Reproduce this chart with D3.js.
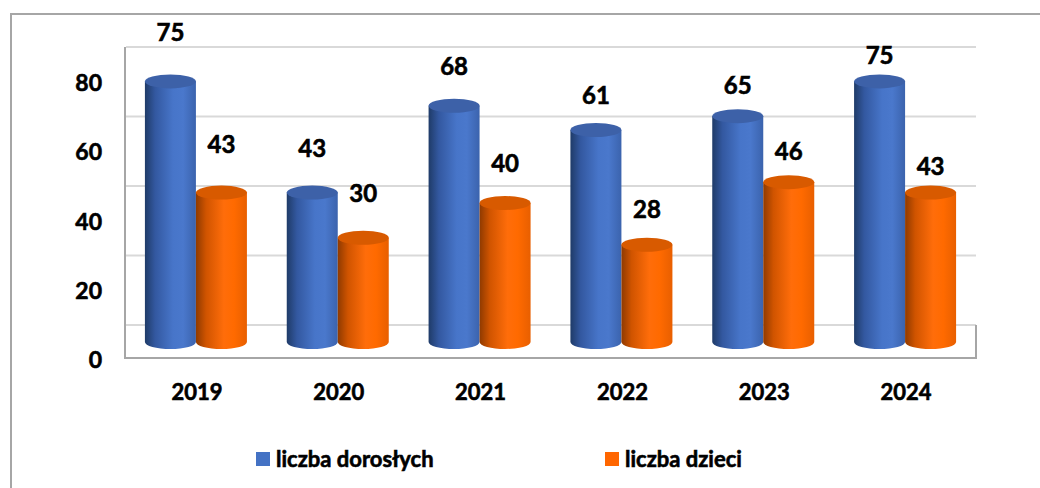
<!DOCTYPE html>
<html>
<head>
<meta charset="utf-8">
<script src="https://cdn.jsdelivr.net/npm/d3@7"></script>
<style>
  body { margin: 0; background: #fff; }
  text { font-family: Lato, "Open Sans", sans-serif; font-weight: bold; fill: #000;
         stroke: #000; stroke-width: 0.6px; }
</style>
</head>
<body>
<script>
var years = ['2019', '2020', '2021', '2022', '2023', '2024'];
var adults = [75, 43, 68, 61, 65, 75];
var children = [43, 30, 40, 28, 46, 43];
var seriesNames = ['liczba dorosłych', 'liczba dzieci'];
var yTicks = [0, 20, 40, 60, 80];

var w = 1040, h = 488;
var barW = 51, ry = 7;

var svg = d3.select('body').append('svg')
  .attr('width', w)
  .attr('height', h);

// outer frame (only top and left visible)
svg.append('path')
  .attr('d', 'M11,' + (h + 5) + 'V14H' + (w + 5))
  .attr('fill', 'none')
  .attr('stroke', '#a6a6a6')
  .attr('stroke-width', 2);

var x = d3.scaleBand().domain(years).range([125, 976]);
var xs = d3.scaleBand().domain([0, 1])
  .range([x.bandwidth() / 2 - barW, x.bandwidth() / 2 + barW]);

var yWall = d3.scaleLinear().domain([0, 80]).range([325, 47]);
var yBar = d3.scaleLinear().domain([0, 80]).range([342, 64]);
var yLab = d3.scaleLinear().domain([0, 80]).range([368, 91]);

// back wall grid
svg.selectAll('.grid')
  .data(yTicks)
  .enter().append('line')
  .attr('x1', 126).attr('x2', 976)
  .attr('y1', function (d) { return yWall(d); })
  .attr('y2', function (d) { return yWall(d); })
  .attr('stroke', '#d9d9d9')
  .attr('stroke-width', 2);

// floor / axis frame
svg.append('path')
  .attr('d', 'M125,47V358H976V325')
  .attr('fill', 'none')
  .attr('stroke', '#a6a6a6')
  .attr('stroke-width', 2);

// y labels
svg.selectAll('.ylab')
  .data(yTicks)
  .enter().append('text')
  .attr('x', 102)
  .attr('y', function (d) { return yLab(d); })
  .attr('text-anchor', 'end')
  .style('font-size', '23px')
  .text(function (d) { return d; });

// gradients
var defs = svg.append('defs');
var palettes = [
  { side: ['#1f3b68', '#3358a0', '#4775c9', '#4a78cc', '#3b63ad'], top: '#3d61a8' },
  { side: ['#8f3a00', '#d05400', '#ff6d0a', '#ff6a00', '#e85f00'], top: '#d85a00' }
];
palettes.forEach(function (p, i) {
  var g = defs.append('linearGradient').attr('id', 'cyl' + i);
  [0, 0.2, 0.55, 0.75, 1].forEach(function (o, j) {
    g.append('stop').attr('offset', o).attr('stop-color', p.side[j]);
  });
});

var data = [];
years.forEach(function (y, i) {
  data.push({ year: y, i: i, s: 0, v: adults[i] });
  data.push({ year: y, i: i, s: 1, v: children[i] });
});

function cx(d) { return x(d.year) + xs(d.s) + xs.bandwidth() / 2; }

var bars = svg.selectAll('.bar')
  .data(data)
  .enter().append('g');

bars.append('path')
  .attr('d', function (d) {
    var c = cx(d), r = barW / 2, t = yBar(d.v), b = yBar(0);
    return 'M' + (c - r) + ',' + t + 'V' + b +
      'A' + r + ',' + ry + ' 0 0 0 ' + (c + r) + ',' + b +
      'V' + t + 'Z';
  })
  .attr('fill', function (d) { return 'url(#cyl' + d.s + ')'; });

bars.append('ellipse')
  .attr('cx', cx)
  .attr('cy', function (d) { return yBar(d.v); })
  .attr('rx', barW / 2)
  .attr('ry', ry)
  .attr('fill', function (d) { return palettes[d.s].top; });

// labels sit closer to the bar top further right (3D perspective)
bars.append('text')
  .attr('x', cx)
  .attr('y', function (d) { return yBar(d.v) - (40 - 4.5 * d.i); })
  .attr('text-anchor', 'middle')
  .style('font-size', '24px')
  .text(function (d) { return d.v; });

// x labels
svg.selectAll('.xlab')
  .data(years)
  .enter().append('text')
  .attr('x', function (d) { return x(d) + x.bandwidth() / 2 + 1; })
  .attr('y', 400)
  .attr('text-anchor', 'middle')
  .style('font-size', '22px')
  .text(function (d) { return d; });

// legend
var legX = [256, 605];
var leg = svg.selectAll('.leg')
  .data(seriesNames)
  .enter().append('g')
  .attr('transform', function (d, i) { return 'translate(' + legX[i] + ',452)'; });
leg.append('rect')
  .attr('width', 14).attr('height', 14)
  .attr('fill', function (d, i) { return i ? '#ff6600' : '#4472c4'; });
leg.append('text')
  .attr('x', 20).attr('y', 15)
  .style('font-size', '22px')
  .text(function (d) { return d; });
</script>
</body>
</html>
